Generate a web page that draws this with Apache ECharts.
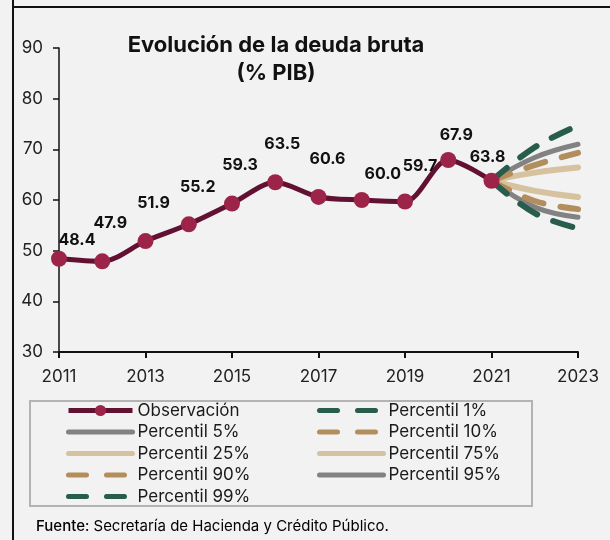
<!DOCTYPE html>
<html>
<head>
<meta charset="utf-8">
<script src="https://cdn.jsdelivr.net/npm/echarts@6/dist/echarts.min.js"></script>
<style>
html,body{margin:0;padding:0;background:#f2f2f2;}
#c{width:610px;height:540px;}
</style>
</head>
<body>
<div id="c"></div>
<script>
const years = ['2011','2012','2013','2014','2015','2016','2017','2018','2019','2020','2021','2022','2023'];
const observacion = [48.4, 47.9, 51.9, 55.2, 59.3, 63.5, 60.6, 60.0, 59.7, 67.9, 63.8];
const p1  = [63.8, 57.4, 54.4];
const p5  = [63.8, 58.6, 56.6];
const p10 = [63.8, 59.8, 58.2];
const p25 = [63.8, 61.8, 60.6];
const p75 = [63.8, 65.4, 66.4];
const p90 = [63.8, 66.9, 69.3];
const p95 = [63.8, 68.4, 71.0];
const p99 = [63.8, 70.4, 74.7];
const yTicks = [30, 40, 50, 60, 70, 80, 90];
const labelShift = [[18,-3],[8,-22],[8,-22],[9,-21],[8,-22],[7,-22],[9,-22],[21,-10],[15,-19],[8,-9],[-4,-8]];

const FONT = 'Inter, "Open Sans", sans-serif';
const fanStart = years.indexOf('2021');
function fan(arr){
  const d = years.map(()=>null);
  arr.forEach((v,i)=>{ d[fanStart+i] = v; });
  return d;
}
const obsData = observacion.map((v,i)=>({
  value: v,
  label: { offset: labelShift[i] }
}));

const C = {
  maroon: '#621132', marker: '#9d2449', gray: '#828282',
  tan: '#b38e5d', light: '#d6c29e', green: '#285c4d'
};
const DASH = [20,17];
const styles = {
  'Percentil 1%':  { color: C.green, dashed: true,  width: 6 },
  'Percentil 5%':  { color: C.gray,  dashed: false, width: 5 },
  'Percentil 10%': { color: C.tan,   dashed: true,  width: 6 },
  'Percentil 25%': { color: C.light, dashed: false, width: 6 },
  'Percentil 75%': { color: C.light, dashed: false, width: 6 },
  'Percentil 90%': { color: C.tan,   dashed: true,  width: 6 },
  'Percentil 95%': { color: C.gray,  dashed: false, width: 5 },
  'Percentil 99%': { color: C.green, dashed: true,  width: 6 }
};
function fanSeries(name, arr){
  const s = styles[name];
  return {
    name, type:'line', data: fan(arr), smooth: 0.4, symbol:'none', showSymbol:false,
    lineStyle:{ color: s.color, width: s.width, type: s.dashed ? DASH : 'solid', cap:'round' },
    itemStyle:{ color: s.color }, z: 2
  };
}
function legendItem(name){
  if (name === 'Observación') {
    return { name, lineStyle: { width: 5, color: C.maroon } };
  }
  const s = styles[name];
  return { name, itemStyle: { opacity: 0 },
    lineStyle: { width: 5, color: s.color, type: s.dashed ? [18,20] : 'solid', cap: 'round' } };
}

const chart = echarts.init(document.getElementById('c'), null, {renderer:'canvas'});
const legendText = { fontFamily: FONT, fontSize: 17, color: '#1a1a1a' };
chart.setOption({
  backgroundColor: '#f2f2f2',
  animation: false,
  title: {
    text: 'Evolución de la deuda bruta\n(% PIB)',
    left: 271, top: 26, textAlign: 'center',
    textStyle: { fontFamily: FONT, fontSize: 22, fontWeight: 'bold', color: '#111', lineHeight: 28 }
  },
  grid: { left: 59, right: 32, top: 48, bottom: 188 },
  xAxis: {
    type: 'category', data: years, boundaryGap: false,
    axisLine: { lineStyle: { color: '#111', width: 2 } },
    axisTick: { interval: 1, length: 6, lineStyle: { color: '#111', width: 2 } },
    axisLabel: { interval: 1, margin: 16, fontFamily: FONT, fontSize: 17, color: '#222' },
    splitLine: { show: false }
  },
  yAxis: {
    type: 'value', min: yTicks[0], max: yTicks[yTicks.length-1], interval: 10,
    axisLine: { show: true, lineStyle: { color: '#111', width: 1.5 } },
    axisTick: { show: true, length: 6, lineStyle: { color: '#111', width: 1.5 } },
    axisLabel: { margin: 16, fontFamily: FONT, fontSize: 17, color: '#222' },
    splitLine: { show: false }
  },
  legend: [
    {
      orient: 'vertical', left: 66, top: 402, padding: 0, itemWidth: 64, itemHeight: 14, itemGap: 4.5,
      data: ['Observación','Percentil 5%','Percentil 25%','Percentil 90%','Percentil 99%'].map(legendItem),
      textStyle: legendText
    },
    {
      orient: 'vertical', left: 317, top: 402, padding: 0, itemWidth: 64, itemHeight: 14, itemGap: 4.5,
      data: ['Percentil 1%','Percentil 10%','Percentil 75%','Percentil 95%'].map(legendItem),
      textStyle: legendText
    }
  ],
  graphic: [
    { type:'line', shape:{x1:13,y1:0,x2:13,y2:540}, style:{stroke:'#111', lineWidth:2}, z: 10 },
    { type:'line', shape:{x1:13,y1:7,x2:610,y2:7}, style:{stroke:'#111', lineWidth:2}, z: 10 },
    { type:'rect', shape:{x:30,y:401,width:502,height:105}, style:{fill:'none', stroke:'#b3b3b3', lineWidth:2}, z: 1 },
    { type:'text', left: 36, top: 519, style:{
        text: '{b|Fuente}{r|: Secretaría de Hacienda y Crédito Público.}',
        rich: {
          b: { fontFamily: FONT, fontSize: 15, color: '#111', fontWeight: 500 },
          r: { fontFamily: FONT, fontSize: 15, color: '#555' }
        }
      } }
  ],
  series: [
    {
      name: 'Observación', type: 'line', data: obsData, smooth: 0.3,
      symbol: 'circle', symbolSize: 16,
      lineStyle: { color: C.maroon, width: 5 },
      itemStyle: { color: C.marker },
      label: { show: true, position: 'top', distance: 0, formatter: p => p.value.toFixed(1),
        fontFamily: FONT, fontSize: 16, fontWeight: 'bold', color: '#111' },
      z: 5
    },
    fanSeries('Percentil 5%', p5),
    fanSeries('Percentil 25%', p25),
    fanSeries('Percentil 75%', p75),
    fanSeries('Percentil 95%', p95),
    fanSeries('Percentil 10%', p10),
    fanSeries('Percentil 90%', p90),
    fanSeries('Percentil 1%', p1),
    fanSeries('Percentil 99%', p99)
  ]
});
</script>
</body>
</html>
